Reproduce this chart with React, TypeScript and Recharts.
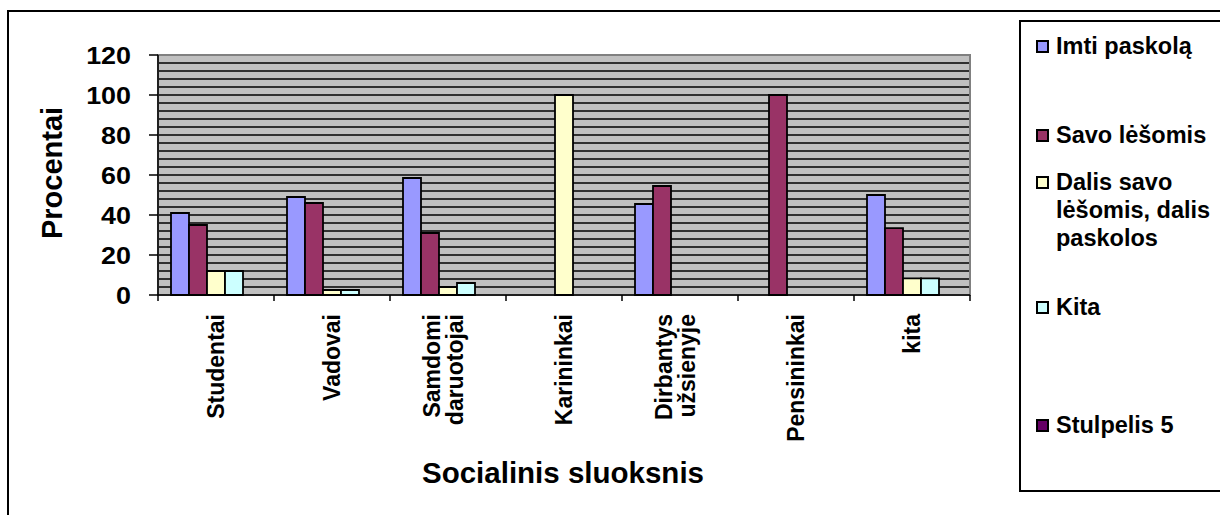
import React from "react"
import { Bar, BarChart, CartesianGrid, Label, Legend, ReferenceArea, XAxis, YAxis } from "recharts"

// Categories and shares (%) per financing option
const categories = [
  "Studentai",
  "Vadovai",
  "Samdomi\ndaruotojai",
  "Karininkai",
  "Dirbantys\nužsienyje",
  "Pensininkai",
  "kita",
]
const imtiPaskola = [41, 49, 58.5, 0, 45.5, 0, 50]
const savoLesomis = [35, 46, 31, 0, 54.5, 100, 33.4]
const dalisPaskolos = [12, 2.5, 4, 100, 0, 0, 8.3]
const kita = [12, 2.5, 6, 0, 0, 0, 8.3]
const stulpelis5 = [0, 0, 0, 0, 0, 0, 0]
const yTicks = [0, 20, 40, 60, 80, 100, 120]

const series = [
  { key: "imti", name: "Imti paskolą", values: imtiPaskola, color: "#9999FF" },
  { key: "savo", name: "Savo lėšomis", values: savoLesomis, color: "#993366" },
  { key: "dalis", name: "Dalis savo\nlėšomis, dalis\npaskolos", values: dalisPaskolos, color: "#FFFFCC" },
  { key: "kita", name: "Kita", values: kita, color: "#CCFFFF" },
  { key: "s5", name: "Stulpelis 5", values: stulpelis5, color: "#660066" },
]

const data = categories.map((cat, i) => {
  const row: Record<string, string | number> = { cat }
  series.forEach((s) => (row[s.key] = s.values[i]))
  return row
})

const FONT = '"Liberation Sans", Arial, sans-serif'
const W = 1220
const H = 515
const MARGIN = { top: 55, right: 250, left: 98, bottom: 70 }
const Y_AXIS_W = 60
const PLOT_W = W - MARGIN.left - Y_AXIS_W - MARGIN.right
const BAND = PLOT_W / categories.length
const Y_MAX = 120
// hatch lines across the plot background every 4 %
const hatchValues = Array.from({ length: Y_MAX / 4 + 1 }, (_, i) => i * 4)

// vertical offsets of the legend entries inside the box
const legendTops = [10, 99, 146, 271, 389]

const CategoryTick = (props: any) => {
  const { x, y, payload, index } = props
  const lines = String(payload.value).split("\n")
  const lineH = 23
  const shift = -(lines.length - 1) * 5
  return (
    <g>
      <line x1={x - BAND / 2} x2={x - BAND / 2} y1={y} y2={y + 6} stroke="#000" strokeWidth={1.5} />
      {index === categories.length - 1 && (
        <line x1={x + BAND / 2} x2={x + BAND / 2} y1={y} y2={y + 6} stroke="#000" strokeWidth={1.5} />
      )}
      <text
        transform={`translate(${x + shift},${y + 19}) rotate(-90)`}
        textAnchor="end"
        fontSize={23}
        fontWeight="bold"
        fontFamily={FONT}
        fill="#000"
      >
        {lines.map((l, i) => (
          <tspan key={i} x={0} dy={i === 0 ? 8 - ((lines.length - 1) * lineH) / 2 : lineH}>
            {l}
          </tspan>
        ))}
      </text>
    </g>
  )
}

// value labels on the y axis are drawn slightly wide
const ValueTick = (props: any) => {
  const { x, y, payload } = props
  return (
    <text
      transform={`translate(${x},${y}) scale(1.12,1)`}
      textAnchor="end"
      dy="0.36em"
      fontSize={24}
      fontWeight="bold"
      fontFamily={FONT}
      fill="#000"
    >
      {payload.value}
    </text>
  )
}

const renderLegend = (props: any) => {
  const payload = [...(props.payload || [])].sort(
    (a: any, b: any) =>
      series.findIndex((s) => s.name === a.value) - series.findIndex((s) => s.name === b.value)
  )
  return (
    <div
      style={{
        position: "relative",
        width: 220,
        height: 472,
        border: "2px solid #000",
        boxSizing: "border-box",
        background: "#fff",
        fontFamily: FONT,
      }}
    >
      {payload.map((entry: any, i: number) => (
        <div
          key={entry.value}
          style={{ position: "absolute", top: legendTops[i], left: 15, display: "flex", alignItems: "flex-start" }}
        >
          <span
            style={{
              display: "block",
              flexShrink: 0,
              boxSizing: "border-box",
              width: 13,
              height: 13,
              marginTop: 8,
              border: "2px solid #000",
              background: entry.color,
            }}
          />
          <span
            style={{
              marginLeft: 7,
              fontSize: 23.5,
              lineHeight: "28px",
              fontWeight: "bold",
              color: "#000",
              whiteSpace: "pre",
            }}
          >
            {entry.value}
          </span>
        </div>
      ))}
    </div>
  )
}

export default function App() {
  return (
    <div style={{ position: "absolute", left: 0, top: 0, width: W, height: H, overflow: "hidden", background: "#fff" }}>
      <div
        style={{ position: "absolute", left: 7, top: 10, width: 1400, height: 700, border: "2px solid #000" }}
      />
      <div style={{ position: "absolute", left: 0, top: 0 }}>
        <BarChart width={W} height={H} data={data} margin={MARGIN} barCategoryGap={13} barGap={0}>
          <CartesianGrid
            vertical={false}
            fill="#C0C0C0"
            fillOpacity={1}
            stroke="#000"
            strokeWidth={1.4}
            horizontalCoordinatesGenerator={({ offset }: any) =>
              hatchValues.map((v) => offset.top + offset.height * (1 - v / Y_MAX))
            }
          />
          <ReferenceArea y1={0} y2={Y_MAX} fill="none" stroke="#808080" strokeWidth={2} />
          <XAxis
            dataKey="cat"
            interval={0}
            height={150}
            tickLine={false}
            tickSize={0}
            tickMargin={0}
            axisLine={{ stroke: "#000", strokeWidth: 1.5 }}
            tick={<CategoryTick />}
          >
            <Label
              content={() => (
                <text x={563} y={472} textAnchor="middle" dominantBaseline="central" fontSize={29.5} fontWeight="bold" fontFamily={FONT} fill="#000">
                  Socialinis sluoksnis
                </text>
              )}
            />
          </XAxis>
          <YAxis
            width={Y_AXIS_W}
            domain={[0, Y_MAX]}
            ticks={yTicks}
            interval={0}
            tickSize={9}
            tickMargin={18}
            axisLine={{ stroke: "#000", strokeWidth: 1.5 }}
            tickLine={{ stroke: "#000", strokeWidth: 1.5 }}
            tick={<ValueTick />}
          >
            <Label
              content={() => (
                <text
                  transform="translate(52,173) rotate(-90)"
                  textAnchor="middle"
                  dominantBaseline="central"
                  fontSize={29}
                  fontWeight="bold"
                  fontFamily={FONT}
                  fill="#000"
                >
                  Procentai
                </text>
              )}
            />
          </YAxis>
          <Legend
            layout="horizontal"
            verticalAlign="middle"
            align="center"
            content={renderLegend}
            wrapperStyle={{ position: "absolute", left: 1019, top: 20, width: 220, height: 472 }}
          />
          {series.map((s) => (
            <Bar
              key={s.key}
              dataKey={s.key}
              name={s.name}
              fill={s.color}
              stroke="#000"
              strokeWidth={1.8}
              isAnimationActive={false}
            />
          ))}
        </BarChart>
      </div>
    </div>
  )
}
